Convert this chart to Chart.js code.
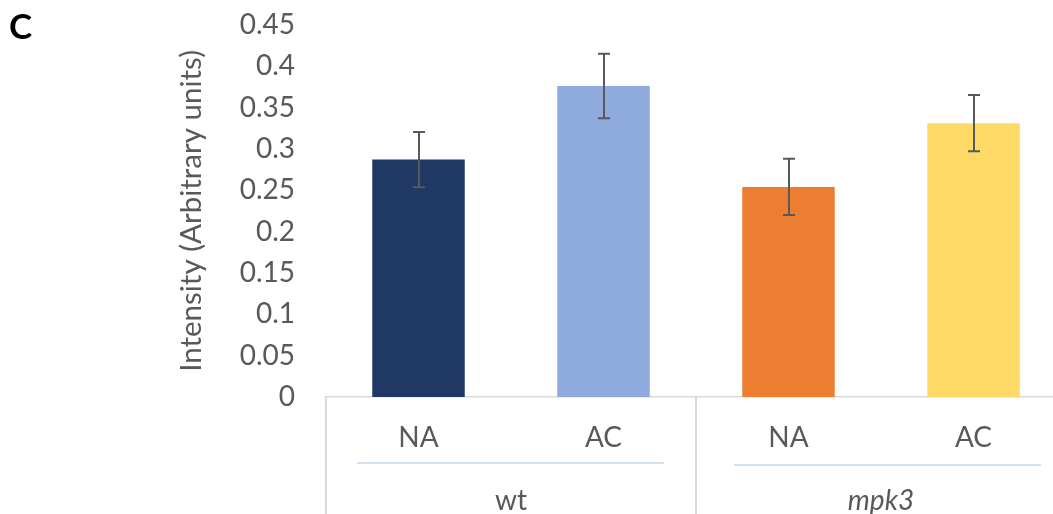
<!DOCTYPE html>
<html>
<head>
<meta charset="utf-8">
<title>Intensity by genotype and treatment</title>
<script src="https://cdn.jsdelivr.net/npm/chart.js@4"></script>
<style>
  html, body { margin: 0; padding: 0; background: #ffffff; overflow: hidden; }
  #wrap { position: relative; width: 1070px; height: 514px; }
</style>
</head>
<body>
<div id="wrap"><canvas id="chart"></canvas></div>
<script>
// Treatment under each bar, and the genotype groups they belong to
const conditions = ['NA', 'AC', 'NA', 'AC'];
const genotypes = ['wt', 'mpk3'];
const genotypeItalic = [false, true];

// Mean intensity and its error for each bar
const intensity = [0.287, 0.376, 0.254, 0.331];
const intensityErr = [0.0335, 0.039, 0.034, 0.034];

// Value axis labels
const yTickLabels = ['0', '0.05', '0.1', '0.15', '0.2', '0.25', '0.3', '0.35', '0.4', '0.45'];

const barColors = ['#203864', '#8faadc', '#ed7d31', '#ffd966'];
const FONT = 'Lato, "Open Sans", sans-serif';
const TEXT = '#595959';
const RULE = '#d9d9d9';

// Error bars, group dividers and panel letter
const decorations = {
  id: 'decorations',
  afterDatasetsDraw(chart) {
    const ctx = chart.ctx;
    const y = chart.scales.y;
    const meta = chart.getDatasetMeta(0);

    ctx.save();
    ctx.strokeStyle = '#595959';
    ctx.lineWidth = 2;
    meta.data.forEach((bar, i) => {
      const v = intensity[i], e = intensityErr[i];
      const top = y.getPixelForValue(v + e);
      const bot = y.getPixelForValue(v - e);
      const cx = Math.round(bar.x);
      ctx.beginPath();
      ctx.moveTo(cx, top); ctx.lineTo(cx, bot);
      ctx.moveTo(cx - 6, top); ctx.lineTo(cx + 6, top);
      ctx.moveTo(cx - 6, bot); ctx.lineTo(cx + 6, bot);
      ctx.stroke();
    });
    ctx.restore();
  },
  afterDraw(chart) {
    const ctx = chart.ctx;
    const x = chart.scales.x;
    const area = chart.chartArea;
    const step = x.getPixelForValue(1) - x.getPixelForValue(0);
    const perGroup = conditions.length / genotypes.length;

    ctx.save();
    // vertical dividers between genotype groups
    ctx.strokeStyle = RULE;
    ctx.lineWidth = 2;
    for (let g = 0; g <= genotypes.length; g++) {
      const px = Math.round(x.getPixelForValue(g * perGroup) - step / 2);
      ctx.beginPath();
      ctx.moveTo(px, area.bottom);
      ctx.lineTo(px, chart.height);
      ctx.stroke();
    }
    // thin rule under each group's treatment labels
    const insets = [[31, 32, 463], [38, 25, 465]];
    ctx.strokeStyle = '#c5d9ee';
    ctx.lineWidth = 1.5;
    for (let g = 0; g < genotypes.length; g++) {
      const left = x.getPixelForValue(g * perGroup) - step / 2;
      const right = x.getPixelForValue((g + 1) * perGroup - 1) + step / 2;
      ctx.beginPath();
      ctx.moveTo(left + insets[g][0], insets[g][2]);
      ctx.lineTo(right - insets[g][1], insets[g][2]);
      ctx.stroke();
    }
    // panel letter
    ctx.fillStyle = '#000000';
    ctx.font = 'bold 35px ' + FONT;
    ctx.textBaseline = 'alphabetic';
    ctx.textAlign = 'left';
    ctx.fillText('C', 9, 39);
    ctx.restore();
  }
};

new Chart(document.getElementById('chart'), {
  type: 'bar',
  data: {
    labels: conditions,
    datasets: [{
      data: intensity,
      backgroundColor: barColors,
      borderWidth: 0,
      barPercentage: 0.5,
      categoryPercentage: 1.0
    }]
  },
  options: {
    responsive: true,
    maintainAspectRatio: false,
    animation: false,
    events: [],
    layout: { padding: { left: 0, right: 4, top: 2, bottom: 0 } },
    plugins: { legend: { display: false }, tooltip: { enabled: false } },
    scales: {
      y: {
        min: 0,
        max: 0.45,
        afterFit(scale) { scale.width = 326; },
        grid: { display: false, drawTicks: true, tickLength: 23 },
        border: { display: false },
        ticks: {
          stepSize: 0.05,
          padding: 8,
          color: TEXT,
          font: { family: FONT, size: 28 },
          callback: (value, index) => yTickLabels[index]
        },
        title: {
          display: true,
          text: 'Intensity (Arbitrary units)',
          color: TEXT,
          font: { family: FONT, size: 29.5 },
          padding: { top: 174, bottom: 0 }
        }
      },
      x: {
        position: 'bottom',
        afterFit(scale) { scale.height = 57; },
        grid: { display: false, drawTicks: false },
        border: { display: true, color: RULE, width: 1.5 },
        ticks: {
          padding: 24,
          color: TEXT,
          maxRotation: 0,
          font: { family: FONT, size: 28 }
        }
      },
      x2: {
        type: 'category',
        position: 'bottom',
        labels: genotypes,
        offset: true,
        afterFit(scale) { scale.height = 60; },
        grid: { display: false, drawTicks: false },
        border: { display: false },
        ticks: {
          padding: 30,
          color: TEXT,
          maxRotation: 0,
          font: (c) => ({ family: FONT, size: 28, style: genotypeItalic[c.index] ? 'italic' : 'normal' })
        }
      }
    }
  },
  plugins: [decorations]
});
</script>
</body>
</html>
